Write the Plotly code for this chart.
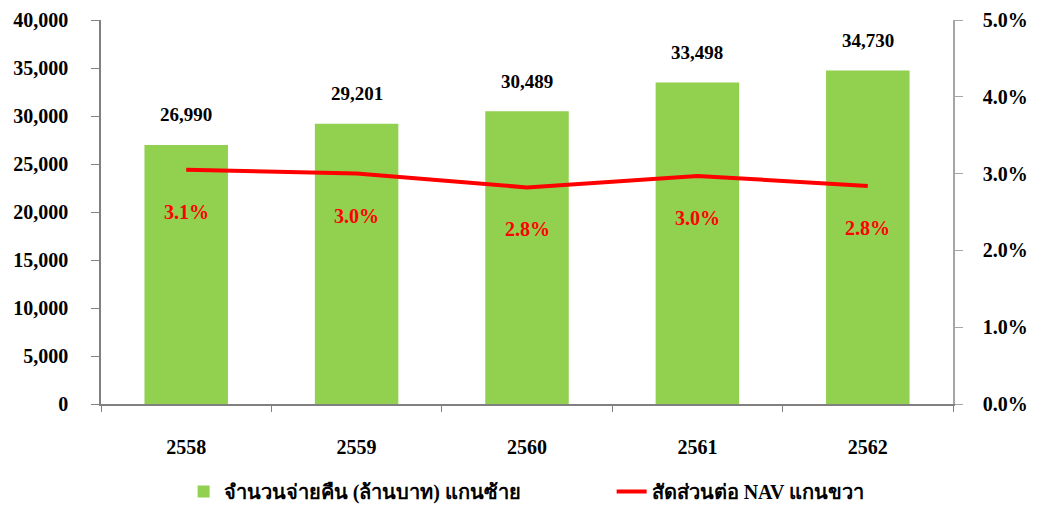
import plotly.graph_objects as go

years = ["2558", "2559", "2560", "2561", "2562"]
payout = [26990, 29201, 30489, 33498, 34730]
nav_ratio = [3.05, 3.00, 2.82, 2.97, 2.84]
nav_labels = ["3.1%", "3.0%", "2.8%", "3.0%", "2.8%"]
left_ticks = [0, 5000, 10000, 15000, 20000, 25000, 30000, 35000, 40000]
right_ticks = [0, 1, 2, 3, 4, 5]

FONT = "Liberation Serif, Times New Roman, serif"
B = "bold"

fig = go.Figure()
fig.add_trace(go.Bar(
    x=years, y=payout, name="จำนวนจ่ายคืน (ล้านบาท) แกนซ้าย",
    marker=dict(color="#92D050", line=dict(width=0)), width=0.49,
))
fig.add_trace(go.Scatter(
    x=years, y=nav_ratio, name="สัดส่วนต่อ NAV แกนขวา", yaxis="y2",
    mode="lines", line=dict(color="#FF0000", width=4),
))
for i, v in enumerate(payout):
    fig.add_annotation(x=i, xref="x", y=v, yref="y", text=f"{v:,}", showarrow=False,
                       yshift=30, font=dict(family=FONT, size=19, color="black", weight=B))
for i, (v, lab) in enumerate(zip(nav_ratio, nav_labels)):
    fig.add_annotation(x=i, xref="x", y=v, yref="y2", text=lab, showarrow=False,
                       yshift=-42, font=dict(family=FONT, size=20, color="#FF0000", weight=B))

fig.update_layout(
    width=1033, height=499,
    margin=dict(l=93, r=88, t=12, b=103, autoexpand=False),
    plot_bgcolor="white", paper_bgcolor="white",
    font=dict(family=FONT, size=20, color="black", weight=B),
    showlegend=True,
    legend=dict(orientation="h", x=0.097, xanchor="left", y=-0.177, yanchor="top",
                font=dict(family=FONT, size=20, weight=B),
                entrywidthmode="pixels", entrywidth=383),
    xaxis=dict(type="category", range=[-0.5, 4.5], showline=True, linecolor="#808080", linewidth=1.5,
               ticks="outside", tickson="boundaries", ticklen=6, tickcolor="#808080",
               tickfont=dict(family=FONT, size=20, color="black", weight=B), ticklabelstandoff=24,
               showgrid=False, automargin=False),
    yaxis=dict(range=[0, 40000], tickvals=left_ticks, tickformat=",d",
               showline=True, linecolor="#808080", linewidth=1.5,
               ticks="outside", ticklen=8, tickcolor="#808080",
               tickfont=dict(family=FONT, size=20, color="black", weight=B),
               showgrid=False, zeroline=False, ticklabelstandoff=19, automargin=False),
    yaxis2=dict(range=[0, 5], tickvals=right_ticks,
                ticktext=[f"{t:.1f}%" for t in right_ticks],
                overlaying="y", side="right",
                showline=True, linecolor="#A6A6A6", linewidth=1.5,
                ticks="outside", ticklen=8, tickcolor="#A6A6A6",
                tickfont=dict(family=FONT, size=20, color="black", weight=B),
                showgrid=False, zeroline=False, ticklabelstandoff=16, automargin=False),
)

fig.write_html("out.html")
